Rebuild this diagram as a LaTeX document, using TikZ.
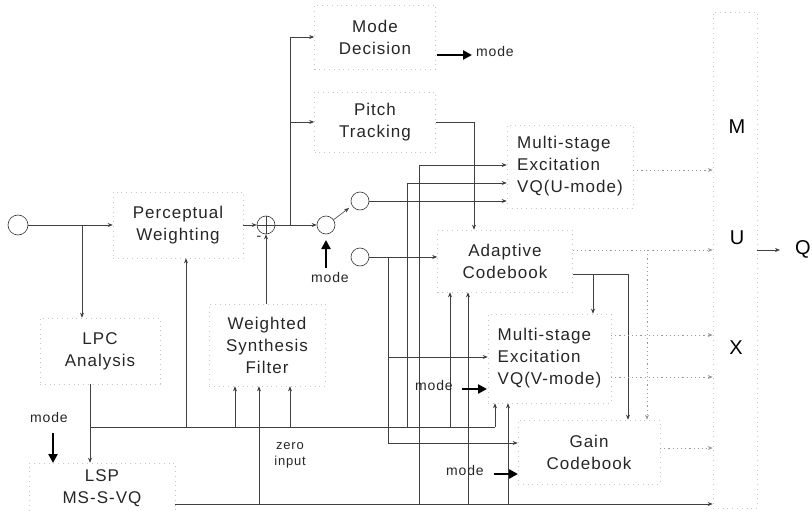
\documentclass[tikz,border=0pt]{standalone}
\usepackage{fontspec}
\newfontfamily\diag[LetterSpace=6]{Liberation Sans}
\usetikzlibrary{arrows.meta}
\begin{document}
\begin{tikzpicture}[x=1pt,y=-1pt,
  every node/.style={inner sep=0pt},
  blk/.style={draw=black!22, dash pattern=on 0.8pt off 4pt, line width=0.6pt, align=center,
    text=black!85, font=\diag\fontsize{17}{22}\selectfont},
  circ/.style={circle, draw=black!80, line width=0.6pt, minimum size=18pt},
  ln/.style={draw=black!75, line width=0.6pt},
  arr/.style={ln, -{Stealth[length=5pt,width=4pt]}},
  farr/.style={draw=black!40, line width=0.6pt, dash pattern=on 1.2pt off 3pt, -{Stealth[length=5pt,width=4pt]}},
  thk/.style={draw=black, line width=2.4pt, -{Triangle[length=9pt,width=9pt]}},
  lbl/.style={font=\diag\fontsize{14}{16}\selectfont, text=black!85},
  big/.style={font=\diag\fontsize{20}{22}\selectfont}]
\useasboundingbox (0,0) rectangle (812,511);

% boxes
\node[blk, minimum width=121pt, minimum height=64pt] (md) at (375,37) {Mode\\Decision};
\node[blk, minimum width=121pt, minimum height=60pt] (pt) at (375,122) {Pitch\\Tracking};
\node[blk, minimum width=130pt, minimum height=66pt] (pw) at (178,225) {Perceptual\\Weighting};
\node[blk, minimum width=120pt, minimum height=66pt] (lpc) at (100,351) {LPC\\Analysis};
\node[blk, minimum width=146pt, minimum height=50pt] (lsp) at (102,488) {LSP\\MS-S-VQ};
\node[blk, minimum width=116pt, minimum height=82pt] (wsf) at (267,345) {Weighted\\Synthesis\\Filter};
\node[blk, align=left, minimum width=126pt, minimum height=83pt] (ux) at (570,166.5) {Multi-stage\\Excitation\\VQ(U-mode)};
\node[blk, minimum width=135pt, minimum height=62pt] (acb) at (505,261) {Adaptive\\Codebook};
\node[blk, align=left, minimum width=123pt, minimum height=89pt] (vx) at (549.5,358.5) {Multi-stage\\Excitation\\VQ(V-mode)};
\node[blk, minimum width=142pt, minimum height=64pt] (gc) at (589,452) {Gain\\Codebook};
\node[blk, minimum width=44pt, minimum height=496pt] (mux) at (735,260) {};
\node[big] (mM) at (737,127) {M};
\node[big] (mU) at (737,238) {U};
\node[big] (mX) at (736,348) {X};
\node[big] (q) at (803,249) {Q};

% circles
\node[circ, minimum size=20pt] (in) at (18,225) {};
\node[circ] (sum) at (266,225) {};
\draw[ln] (sum.north) -- (sum.south) (sum.west) -- (sum.east);
\node[lbl] (minus) at (259,238) {-};
\node[circ] (sw) at (326,225) {};
\node[circ] (uc) at (360,201) {};
\node[circ] (lc) at (360,257) {};

% input path
\coordinate (j1) at (82,225);
\draw[arr] (in.east) -- (pw.west);
\draw[arr] (j1) -- (j1 |- lpc.north);
\draw[arr] (pw.east) -- (sum.west);
\draw[arr] (sum.east) -- (sw.west);
\coordinate (j2) at (290,225);
\draw[arr] (j2) |- (md.west);
\draw[arr] (j2 |- pt.west) -- (pt.west);
\draw[arr] (wsf.north -| sum) -- (sum.south);

% mode decision output
\coordinate (mda) at (436.5,55);
\coordinate (mdb) at (472,55);
\node[lbl, anchor=west] (mdl) at (476,51) {mode};
\draw[thk] (mda) -- (mdb);

% pitch tracking to adaptive codebook
\coordinate (pa) at (474,122);
\draw[arr] (pt.east) -- (pa) -- (pa |- acb.north);

% switch
\coordinate (swt) at (349,208);
\draw[arr] (sw.35) -- (swt);
\coordinate (swm0) at (326,268);
\coordinate (swm1) at (326,240);
\draw[thk] (swm0) -- (swm1);
\node[lbl] (swl) at (330,277) {mode};

\draw[arr] (uc.east) -- (uc.east -| ux.west);
\draw[arr] (lc.east) -- (lc.east -| acb.west);
\coordinate (c1) at (388,257);
\coordinate (c3) at (388,357);
\coordinate (c2) at (388,443);
\draw[ln] (c1) -- (c2);
\draw[arr] (c3) -- (c3 -| vx.west);
\draw[arr] (c2) -- (c2 -| gc.west);

% LPC / bus
\coordinate (b0) at (90,427);
\coordinate (b1) at (495,427);
\draw[arr] (lpc.south -| b0) -- (lsp.north -| b0);
\draw[ln] (b0) -- (b1);
\draw[arr] (b1) -- (b1 |- vx.south);
\coordinate (lm0) at (53,433);
\coordinate (lm1) at (53,463);
\draw[thk] (lm0) -- (lm1);
\node[lbl] (lml) at (49,417) {mode};

% bottom line
\coordinate (bt0) at (175,504);
\draw[arr] (bt0) -- (bt0 -| mux.west);

% verticals
\coordinate (v1) at (407,183);
\draw[arr] (v1 |- b0) -- (v1) -- (v1 -| ux.west);
\coordinate (v2) at (419,165);
\draw[arr] (v2 |- bt0) -- (v2) -- (v2 -| ux.west);
\coordinate (v3) at (450,427);
\draw[arr] (v3) -- (v3 |- acb.south);
\coordinate (v4) at (468,504);
\draw[arr] (v4) -- (v4 |- acb.south);
\coordinate (v5) at (508,504);
\draw[arr] (v5) -- (v5 |- vx.south);
\coordinate (v6) at (186,427);
\draw[arr] (v6) -- (v6 |- pw.south);
\coordinate (v7) at (235,427);
\draw[arr] (v7) -- (v7 |- wsf.south);
\coordinate (v8) at (290,427);
\draw[arr] (v8) -- (v8 |- wsf.south);
\coordinate (v9) at (259,504);
\draw[arr] (v9) -- (v9 |- wsf.south);
\node[lbl, align=center, font=\diag\fontsize{13}{16}\selectfont] (zi) at (290,455) {zero\\input};

% mode arrows for V and gain
\coordinate (vm0) at (462,389);
\coordinate (vm1) at (487,389);
\draw[thk] (vm0) -- (vm1);
\node[lbl] (vml) at (434,385) {mode};
\coordinate (gm0) at (494,474);
\coordinate (gm1) at (518,474);
\draw[thk] (gm0) -- (gm1);
\node[lbl] (gml) at (465,470) {mode};

% adaptive codebook outputs
\coordinate (a1) at (572.5,250);
\coordinate (a2) at (647,250);
\draw[farr] (a1) -- (a1 -| mux.west);
\draw[farr] (a2) -- (a2 |- gc.north);
\coordinate (a3) at (572.5,274);
\coordinate (a4) at (593,274);
\coordinate (a5) at (628,274);
\draw[ln] (a3) -- (a5);
\draw[arr] (a5) -- (a5 |- gc.north);
\draw[arr] (a4) -- (a4 |- vx.north);

% outputs to MUX
\coordinate (u1) at (633,170);
\draw[farr] (u1) -- (u1 -| mux.west);
\coordinate (o1) at (611,335);
\coordinate (o2) at (611,377);
\draw[farr] (o1) -- (o1 -| mux.west);
\draw[farr] (o2) -- (o2 -| mux.west);
\coordinate (g1) at (660,448);
\draw[farr] (g1) -- (g1 -| mux.west);

% MUX output
\coordinate (mq0) at (757,250);
\coordinate (mq1) at (780,250);
\draw[arr] (mq0) -- (mq1);
\end{tikzpicture}
\end{document}
